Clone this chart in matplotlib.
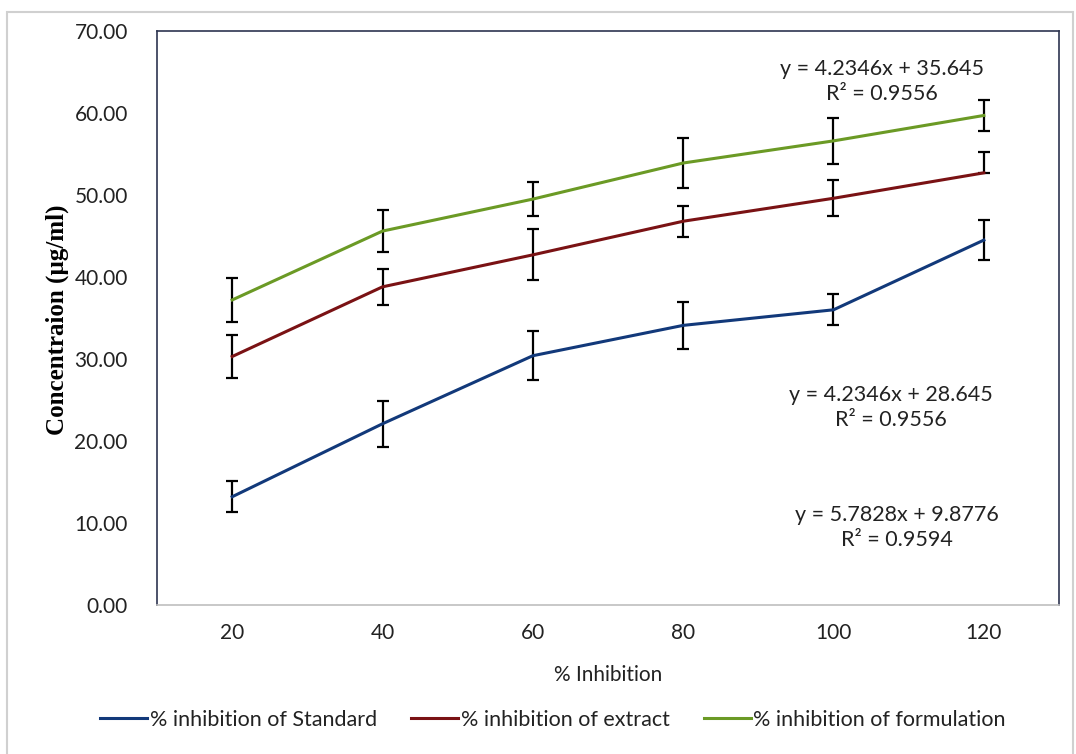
import numpy as np
import matplotlib
matplotlib.use("Agg")
import matplotlib.pyplot as plt
from matplotlib.patches import Rectangle

# concentrations and standard deviations per % inhibition level
inhibition = [20, 40, 60, 80, 100, 120]

standard = [13.2, 22.1, 30.4, 34.1, 36.0, 44.5]
standard_err = [1.9, 2.8, 3.0, 2.9, 1.9, 2.45]

extract = [30.3, 38.8, 42.7, 46.8, 49.6, 52.7]
extract_err_low = [2.65, 2.2, 3.1, 1.9, 2.2, 0.0]
extract_err_high = [2.65, 2.2, 3.1, 1.9, 2.2, 2.55]

formulation = [37.2, 45.6, 49.5, 53.9, 56.6, 59.7]
formulation_err = [2.65, 2.6, 2.1, 3.1, 2.8, 1.9]

labels = ["% inhibition of Standard", "% inhibition of extract", "% inhibition of formulation"]
colors = ["#12397A", "#7A1214", "#6B9A25"]

equations = [
    ("y = 4.2346x + 35.645\nR² = 0.9556", 5.32, 63.8),
    ("y = 4.2346x + 28.645\nR² = 0.9556", 5.38, 24.1),
    ("y = 5.7828x + 9.8776\nR² = 0.9594", 5.42, 9.45),
]

plt.rcParams["font.family"] = ["Lato", "DejaVu Sans"]

fig = plt.figure(figsize=(10.76, 7.54), dpi=100)
fig.patches.append(Rectangle((7 / 1076, -0.01), 1066 / 1076, 1 - 12 / 754 + 0.01,
                             transform=fig.transFigure, fill=False,
                             edgecolor="#D0D0D0", linewidth=1.5))

ax = fig.add_axes([157 / 1076, 1 - 605 / 754, (1059 - 157) / 1076, (605 - 31) / 754])
pos = np.arange(1, len(inhibition) + 1)

series = [
    (standard, [standard_err, standard_err]),
    (extract, [extract_err_low, extract_err_high]),
    (formulation, [formulation_err, formulation_err]),
]
for (vals, err), lab, col in zip(series, labels, colors):
    ax.errorbar(pos, vals, yerr=err, fmt="none", ecolor="black",
                elinewidth=1.6, capsize=4.5, capthick=1.6, zorder=2)
    ax.plot(pos, vals, color=col, linewidth=2.2, label=lab, zorder=3)

for txt, xp, yp in equations:
    ax.text(xp, yp, txt, ha="center", va="center", fontsize=15.5,
            color="#222222", linespacing=1.3)

ax.set_xlim(0.5, len(inhibition) + 0.5)
ax.set_ylim(0, 70)
ax.set_xticks(pos)
ax.set_xticklabels([str(v) for v in inhibition])
ax.set_yticks(np.arange(0, 71, 10))
ax.set_yticklabels([f"{v:.2f}" for v in np.arange(0, 71, 10)])
ax.tick_params(axis="both", length=0, labelsize=15, colors="#222222")
ax.tick_params(axis="x", pad=13)
ax.tick_params(axis="y", pad=21)

ax.spines["left"].set_color("#2E3550")
ax.spines["top"].set_color("#2E3550")
ax.spines["right"].set_color("#2E3550")
ax.spines["bottom"].set_color("#BFBFBF")
for s in ax.spines.values():
    s.set_linewidth(1.2)

ax.set_xlabel("% Inhibition", fontsize=15, color="#222222", labelpad=16)
fig.text(57 / 1076, 1 - 320 / 754, "Concentraion (µg/ml)", rotation=90,
         ha="center", va="center", fontsize=18, fontweight="bold",
         family=["Liberation Serif", "DejaVu Serif"])

fig.legend(loc="center", bbox_to_anchor=(553 / 1076, 1 - 720 / 754), ncol=3,
           frameon=False, fontsize=15.5, handlelength=2.2, handletextpad=0.1,
           columnspacing=1.6, labelcolor="#222222")

fig.savefig("out.png", dpi=100)
